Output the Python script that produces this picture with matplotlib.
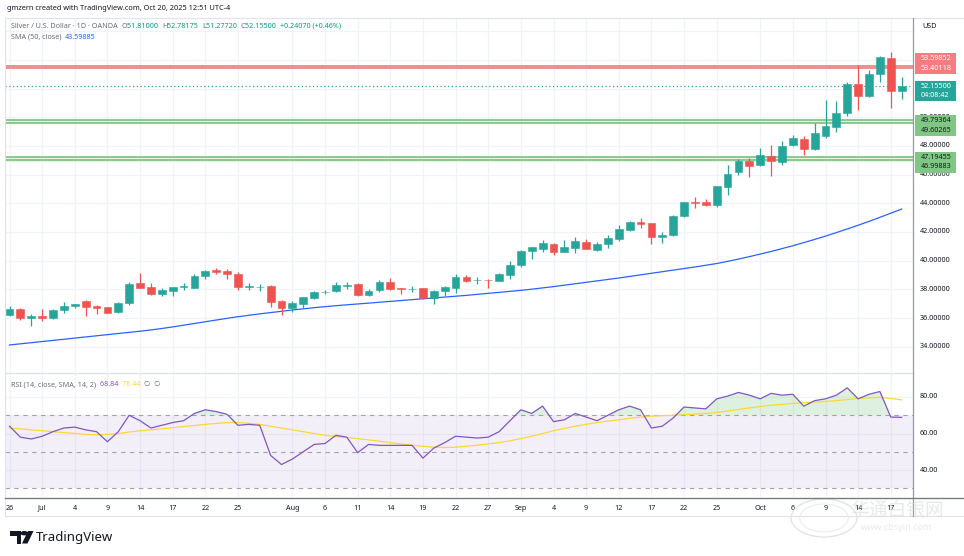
import numpy as np
import matplotlib
matplotlib.use('Agg')
import matplotlib.pyplot as plt
from matplotlib.transforms import blended_transform_factory as btf
from matplotlib.patches import Rectangle, Polygon, Circle

# ---------------- data ----------------
opens = [36.21, 36.62, 35.97, 36.14, 36.02, 36.55, 36.84, 37.18, 36.86, 36.76,
         36.39, 37.07, 38.44, 38.16, 37.67, 37.90, 38.13, 38.11, 38.90, 39.37,
         39.27, 39.06, 38.18, 38.16, 38.23, 37.18, 36.72, 37.00, 37.41, 37.80,
         37.90, 38.25, 38.37, 37.58, 37.93, 38.53, 38.05, 38.00, 38.07, 37.41,
         37.90, 38.11, 38.86, 38.62, 38.66, 38.58, 39.02, 39.72, 40.69, 40.81,
         41.16, 40.62, 40.90, 41.30, 40.76, 41.18, 41.53, 42.16, 42.67, 42.62,
         41.67, 41.79, 43.11, 44.09, 44.09, 43.90, 45.16, 46.16, 46.95, 46.67,
         47.30, 46.90, 48.09, 48.46, 47.81, 48.72, 49.34, 50.32, 52.30, 51.48,
         53.04, 54.11, 51.81]
highs = [36.86, 36.67, 36.25, 36.62, 36.60, 37.09, 36.98, 37.27, 36.90, 36.80,
         37.11, 38.53, 39.13, 38.41, 38.09, 38.18, 38.41, 39.07, 39.38, 39.50,
         39.41, 39.18, 38.41, 38.34, 38.30, 37.27, 37.16, 37.48, 37.90, 37.95,
         38.48, 38.48, 38.42, 38.02, 38.65, 38.76, 38.09, 38.25, 38.12, 37.97,
         38.23, 39.07, 39.00, 38.83, 38.69, 39.13, 39.97, 40.74, 40.97, 41.44,
         41.23, 41.41, 41.67, 41.48, 41.30, 41.76, 42.48, 42.79, 42.97, 42.66,
         42.02, 43.15, 44.12, 44.46, 44.30, 45.22, 46.67, 47.12, 47.18, 47.83,
         48.06, 48.34, 48.76, 48.69, 49.58, 51.20, 51.13, 52.46, 53.65, 53.30,
         54.30, 54.53, 52.78]
lows = [36.16, 35.83, 35.46, 35.79, 35.90, 36.37, 36.67, 36.14, 36.30, 36.32,
        36.35, 36.93, 38.08, 37.62, 37.55, 37.55, 37.95, 38.08, 38.74, 39.09,
        38.74, 37.97, 37.95, 37.90, 36.79, 36.21, 36.39, 36.67, 37.34, 37.65,
        37.83, 38.00, 37.51, 37.51, 37.83, 37.97, 37.69, 37.81, 37.30, 36.95,
        37.55, 37.72, 38.50, 38.37, 38.09, 38.55, 38.74, 39.58, 40.11, 40.62,
        40.41, 40.58, 40.55, 40.80, 40.69, 40.90, 41.39, 42.04, 42.30, 41.18,
        41.20, 41.69, 43.05, 43.69, 43.80, 43.74, 44.58, 45.97, 45.86, 46.60,
        45.93, 46.67, 47.97, 47.37, 47.72, 48.53, 48.99, 50.11, 50.51, 51.40,
        52.48, 50.62, 51.28]
closes = [36.62, 35.97, 36.14, 35.98, 36.55, 36.86, 36.95, 36.74, 36.72, 36.35,
          37.02, 38.39, 38.11, 37.67, 37.93, 38.16, 38.20, 38.93, 39.30, 39.23,
          39.04, 38.18, 38.22, 38.18, 37.14, 36.72, 37.02, 37.44, 37.81, 37.83,
          38.30, 38.28, 37.58, 37.90, 38.51, 38.00, 38.03, 38.02, 37.37, 37.90,
          38.14, 38.83, 38.55, 38.65, 38.62, 39.04, 39.69, 40.69, 40.93, 41.20,
          40.62, 40.95, 41.37, 40.83, 41.16, 41.58, 42.20, 42.69, 42.55, 41.67,
          41.79, 43.11, 44.07, 44.05, 43.86, 45.18, 46.04, 46.95, 46.62, 47.34,
          46.97, 47.99, 48.53, 47.81, 48.90, 49.39, 50.30, 52.30, 51.48, 53.02,
          54.23, 51.85, 52.155]

sma50 = [34.12, 34.20, 34.28, 34.36, 34.44, 34.52, 34.60, 34.68, 34.76, 34.84,
         34.92, 35.00, 35.08, 35.17, 35.27, 35.38, 35.50, 35.62, 35.74, 35.86,
         35.98, 36.09, 36.19, 36.29, 36.38, 36.47, 36.56, 36.64, 36.72, 36.79,
         36.86, 36.92, 36.98, 37.04, 37.10, 37.16, 37.22, 37.28, 37.34, 37.40,
         37.46, 37.52, 37.58, 37.65, 37.72, 37.79, 37.86, 37.93, 38.01, 38.10,
         38.19, 38.29, 38.39, 38.49, 38.59, 38.69, 38.79, 38.90, 39.01, 39.12,
         39.23, 39.34, 39.45, 39.56, 39.68, 39.80, 39.95, 40.11, 40.28, 40.46,
         40.64, 40.84, 41.04, 41.26, 41.48, 41.71, 41.96, 42.21, 42.47, 42.74,
         43.02, 43.31, 43.60]

rsi = [64, 58, 57, 58.5, 61, 63, 63.5, 62, 61, 55.5,
       61, 70, 67, 63, 64.5, 66, 67, 71, 73, 72,
       70.5, 64.5, 65, 64.5, 48, 43, 46, 50, 54, 54.5,
       59, 58, 49.5, 54, 53.5, 53.5, 53.5, 53.5, 46.5, 52,
       55, 58.5, 58, 57.5, 58, 61, 67, 73, 71, 75,
       66.5, 67.5, 71, 69, 67, 70, 73, 75, 73, 63,
       64, 68.5, 74.5, 74, 73.5, 79, 80.5, 82.5, 81, 79,
       82, 81, 81.5, 75, 78, 79, 81, 85, 79, 81.5,
       83, 69, 68.84]

rsi_ma = [63.0, 62.5, 62.0, 61.5, 61.0, 60.5, 60.0, 59.5, 59.3,
          59.5, 60.0, 60.8, 61.5, 62.0, 62.6, 63.2, 63.8, 64.4, 65.0, 65.5, 66.0,
          66.0, 65.6, 65.0, 64.0, 63.0, 62.0, 61.0, 60.0, 59.0, 58.3,
          57.8, 57.2, 56.5, 55.8, 55.0, 54.3, 53.6, 53.0, 52.5, 52.3,
          52.5, 53.0, 53.6, 54.3, 55.0, 56.0, 57.2, 58.5, 60.0, 61.5,
          62.8, 64.0, 65.0, 66.0, 66.8, 67.5, 68.3, 69.0, 69.5, 69.8,
          70.0, 70.3, 70.6, 71.0, 71.5, 72.3, 73.2, 74.0, 74.8, 75.5,
          76.0, 76.5, 76.8, 77.2, 77.6, 78.0, 78.6, 79.2, 79.6, 79.8, 79.2, 78.44]

tick_idx = [0, 3, 6, 9, 12, 15, 18, 21, 26, 29, 32, 35, 38, 41, 44, 47, 50, 53,
            56, 59, 62, 65, 69, 72, 75, 78, 81]
tick_lab = ['26', 'Jul', '4', '9', '14', '17', '22', '25', 'Aug', '6', '11', '14',
            '19', '22', '27', 'Sep', '4', '9', '12', '17', '22', '25', 'Oct', '6',
            '9', '14', '17']

price_ticks = [34, 36, 38, 40, 42, 44, 46, 48, 50]
red_levels = [53.59852, 53.40118]
green_levels_hi = [49.79364, 49.60265]
green_levels_lo = [47.19455, 46.99883]
last_price = 52.155
rsi_ticks = [40, 60, 80]

# ---------------- figure ----------------
W, H = 964, 556
fig = plt.figure(figsize=(W / 100, H / 100), dpi=100)
fig.patch.set_facecolor('white')
FONT = ['Noto Sans', 'DejaVu Sans']
plt.rcParams['font.family'] = FONT

def fx(px):
    return px / W

def fy(py):
    return 1 - py / H

GREEN = '#26a69a'
RED = '#ef5350'
GRID = '#f0f3fa'
TXT = '#131722'
GRAY = '#6a6d78'

axm = fig.add_axes([fx(5), fy(372), fx(913) - fx(5), fy(18) - fy(372)])
axr = fig.add_axes([fx(5), fy(497), fx(913) - fx(5), fy(374) - fy(497)])
xl = ((5 - 9.5) / 10.88, (913 - 9.5) / 10.88)
for a in (axm, axr):
    a.set_xlim(*xl)
    a.set_xticks([])
    a.set_yticks([])
    for s in a.spines.values():
        s.set_visible(False)
    a.set_facecolor('white')
axm.set_ylim(34 + (346.7 - 372) / 14.34, 34 + (346.7 - 18) / 14.34)
axr.set_ylim(80 + (397 - 497) / 1.825, 80 + (397 - 374) / 1.825)

x = np.arange(len(closes))
o = np.array(opens); c = np.array(closes); h = np.array(highs); l = np.array(lows)

# grid
for a in (axm, axr):
    for t in tick_idx:
        a.axvline(t, color=GRID, lw=0.9, zorder=0)
for p in price_ticks + [52, 54, 56]:
    axm.axhline(p, color=GRID, lw=0.9, zorder=0)
for p in rsi_ticks:
    axr.axhline(p, color=GRID, lw=0.9, zorder=0)

# horizontal levels
axm.axhspan(red_levels[1], red_levels[0], color='#f7a9ab', alpha=0.35, lw=0, zorder=1)
for lv in red_levels:
    axm.axhline(lv, color='#f28c8f', lw=1.4, zorder=2)
axm.axhspan(green_levels_hi[1], green_levels_hi[0], color='#a5d6a7', alpha=0.3, lw=0, zorder=1)
for lv in green_levels_hi:
    axm.axhline(lv, color='#81c784', lw=1.3, zorder=2)
axm.axhspan(green_levels_lo[1] - 0.12, green_levels_lo[0], color='#c8e6c9', alpha=0.45, lw=0, zorder=1)
for lv in green_levels_lo:
    axm.axhline(lv, color='#81c784', lw=1.3, zorder=2)
axm.axhline(last_price, color=GREEN, lw=0.9, ls=(0, (1, 2)), zorder=2)

# SMA
axm.plot(x, sma50, color='#2962ff', lw=0.9, zorder=3)

# candles
cols = np.where(c >= o, GREEN, RED)
axm.vlines(x, l, h, colors=cols, lw=0.9, zorder=4)
bottoms = np.minimum(o, c)
heights = np.maximum(np.abs(c - o), 0.03)
axm.bar(x, heights, bottom=bottoms, width=0.72, color=cols, edgecolor=cols, lw=0.4, zorder=5)

# RSI pane
rsi_a = np.array(rsi)
axr.axhspan(30, 70, color='#7e57c2', alpha=0.09, lw=0, zorder=0.5)
for lv in (70, 50, 30):
    axr.axhline(lv, color='#a0a3ab', lw=0.8, ls=(0, (4, 4)), zorder=1)
axr.fill_between(x, rsi_a, 70, where=rsi_a > 70, interpolate=True,
                 color='#4caf50', alpha=0.18, lw=0, zorder=1.5)
axr.plot(x, rsi_ma, color='#fdd835', lw=0.9, zorder=3)
axr.plot(x, rsi, color='#7e57c2', lw=0.9, zorder=4)

# frames / separators
def hline(y, x0, x1, color, lw):
    fig.add_artist(plt.Line2D([fx(x0), fx(x1)], [fy(y), fy(y)], color=color, lw=lw))

def vline(xp, y0, y1, color, lw):
    fig.add_artist(plt.Line2D([fx(xp), fx(xp)], [fy(y0), fy(y1)], color=color, lw=lw))

hline(18, 5, 964, '#e0e3eb', 0.8)
vline(5, 18, 516, '#e0e3eb', 0.8)
hline(373, 5, 913, '#e0e3eb', 1.0)
hline(516, 5, 964, '#e0e3eb', 0.8)
vline(913, 18, 516, '#9598a1', 0.9)
hline(498, 5, 964, '#787b86', 1.0)

# x tick labels
tx = btf(axr.transData, fig.transFigure)
for t, lab in zip(tick_idx, tick_lab):
    axr.text(t, fy(508), lab, transform=tx, ha='center', va='center',
             fontsize=5.2, color=TXT, clip_on=False, zorder=10)

# price labels
tp = btf(fig.transFigure, axm.transData)
for p in price_ticks:
    axm.text(fx(920), p, f'{p:.5f}', transform=tp, ha='left', va='center',
             fontsize=5.2, color=TXT, clip_on=False)
tr = btf(fig.transFigure, axr.transData)
for p in rsi_ticks:
    axr.text(fx(920), p, f'{p:.2f}', transform=tr, ha='left', va='center',
             fontsize=5.2, color=TXT, clip_on=False)

# price tags
def tag(y0, y1, bg, lines, tc):
    fig.add_artist(Rectangle((fx(914.5), fy(y1)), fx(956) - fx(914.5), fy(y0) - fy(y1),
                             facecolor=bg, edgecolor='none', transform=fig.transFigure))
    for yy, s in lines:
        fig.text(fx(920.5), fy(yy), s, ha='left', va='center', fontsize=5.2, color=tc)

tag(52.7, 74.5, '#f77c80', [(59, f'{red_levels[0]:.5f}'), (69, f'{red_levels[1]:.5f}')], 'white')
tag(80.7, 101, '#26a69a', [(86.7, f'{last_price:.5f}'), (95.5, '04:08:42')], 'white')
tag(115, 135.7, '#81c784', [(121, f'{green_levels_hi[0]:.5f}'), (130, f'{green_levels_hi[1]:.5f}')], TXT)
tag(152, 173, '#81c784', [(157.5, f'{green_levels_lo[0]:.5f}'), (166.7, f'{green_levels_lo[1]:.5f}')], TXT)

fig.text(fx(922), fy(27), 'USD', ha='left', va='center', fontsize=5.2, color=TXT)

# header text
renderer = fig.canvas.get_renderer()

def segments(x0, y, segs, size=5.2, weight='normal'):
    xp = x0
    for s, col in segs:
        t = fig.text(fx(xp), fy(y), s, ha='left', va='center', fontsize=size,
                     color=col, fontweight=weight)
        bb = t.get_window_extent(renderer)
        xp += bb.width

segments(7, 8.3, [('gmzern created with TradingView.com, Oct 20, 2025 12:51 UTC-4', TXT)], size=5.3)
VG = '#089981'
segments(11, 26, [('Silver / U.S. Dollar · 1D · OANDA  ', GRAY), ('O', GRAY), ('51.81000  ', VG),
                  ('H', GRAY), ('52.78175  ', VG), ('L', GRAY), ('51.27720  ', VG),
                  ('C', GRAY), ('52.15500  ', VG), ('+0.24070 (+0.46%)', VG)])
segments(11, 37.5, [('SMA (50, close)  ', GRAY), ('43.59885', '#2962ff')])
segments(11, 385, [('RSI (14, close, SMA, 14, 2)  ', GRAY), ('68.84  ', '#7e57c2'),
                   ('78.44  ', '#fdd835'), ('∅  ∅', GRAY)])

# watermark (faint)
fig.add_artist(Circle((fx(824), fy(518)), 19 / H, transform=fig.transFigure,
                      facecolor='none', edgecolor='#e4e4e4', lw=1.0))
fig.add_artist(Circle((fx(824), fy(518)), 14 / H, transform=fig.transFigure,
                      facecolor='none', edgecolor='#ececec', lw=0.8))
fig.text(fx(897), fy(510), '华通白银网', ha='center', va='center', fontsize=13.5,
         color='#d8d8d8', alpha=0.55, family=['Noto Sans CJK SC', 'DejaVu Sans'])
fig.text(fx(897), fy(528), 'www.cbsyin.com', ha='center', va='center', fontsize=6.5,
         color='#d8d8d8', alpha=0.55)

# TradingView logo
k = '#131722'
fig.add_artist(Polygon([(fx(10), fy(531)), (fx(21), fy(531)), (fx(21), fy(543.5)),
                        (fx(16.5), fy(543.5)), (fx(16.5), fy(535.5)), (fx(10), fy(535.5))],
                       closed=True, facecolor=k, edgecolor='none', transform=fig.transFigure))
fig.add_artist(Circle((fx(24.3), fy(533.2)), 2.2 / H, facecolor=k, edgecolor='none',
                      transform=fig.transFigure))
fig.add_artist(Polygon([(fx(28), fy(531)), (fx(33.5), fy(531)), (fx(27.5), fy(543.5)),
                        (fx(22), fy(543.5))], closed=True, facecolor=k, edgecolor='none',
                       transform=fig.transFigure))
fig.text(fx(36), fy(537.5), 'TradingView', ha='left', va='center', fontsize=9.5,
         fontweight='bold', color=k)

fig.savefig('out.png', dpi=100, facecolor='white')
